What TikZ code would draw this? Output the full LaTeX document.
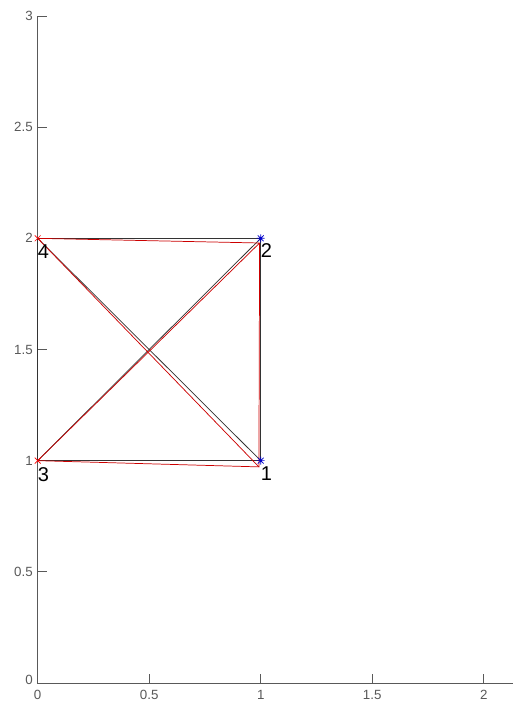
\documentclass[tikz,border=0pt]{standalone}
\usepackage{fontspec}
\setmainfont{Liberation Sans}
\usetikzlibrary{calc}
\begin{document}
\begin{tikzpicture}[x=167.25pt,y=166.73pt,
 axisline/.style={draw=black!65,line width=0.6pt},
 ticklab/.style={font=\fontsize{10pt}{11pt}\selectfont, text=black!65, inner sep=0pt},
 ptlab/.style={font=\fontsize{15pt}{15pt}\selectfont, anchor=base west, inner sep=0pt},
 blackedge/.style={draw=black!80, line width=0.55pt},
 rededge/.style={draw=red!80!black, line width=0.55pt},
 pics/starmark/.style={code={\draw[blue!80!black, line width=0.5pt] (-3pt,0)--(3pt,0) (0,-3pt)--(0,3pt) (-2.2pt,-2.2pt)--(2.2pt,2.2pt) (-2.2pt,2.2pt)--(2.2pt,-2.2pt);}},
 pics/xmark/.style={code={\draw[red, line width=0.5pt] (-2.2pt,-2.2pt)--(2.2pt,2.2pt) (-2.2pt,2.2pt)--(2.2pt,-2.2pt);}}
]
\useasboundingbox[fill=white] (-0.169,-0.108) rectangle (2.131,3.072);
% axes
\coordinate (O) at (0,0);
\coordinate (XE) at (2.131,0);
\coordinate (YT) at (0,3);
\draw[axisline] (XE) -- (O) -- (YT);
\foreach \x [count=\i] in {0.5,1,1.5,2} \draw[axisline] (\x,0) -- ++(0,0.04);
\foreach \y [count=\i] in {0.5,1,1.5,2,2.5,3} \draw[axisline] (0,\y) -- ++(0.04,0);
\foreach \x [count=\i] in {0,0.5,1,1.5,2} \node[ticklab] (xt\i) at (\x,-0.053) {\x};
\node[ticklab,anchor=east] (yt0) at (-0.021,0.012) {0};
\foreach \y [count=\i] in {0.5,1,1.5,2,2.5,3} \node[ticklab,anchor=east] (yt\i) at (-0.021,\y) {\y};
% points
\coordinate (B1) at (1,1);
\coordinate (B2) at (1,2);
\coordinate (B3) at (0,1);
\coordinate (B4) at (0,2);
\coordinate (R1) at (0.992,0.972);
\coordinate (R2) at (0.995,1.979);
\coordinate (R3) at (0,1);
\coordinate (R4) at (0,2);
% black graph
\draw[blackedge] (B1) -- (B2) -- (B4) -- (B3) -- (B1);
\draw[blackedge] (B1) -- (B4);
\draw[blackedge] (B2) -- (B3);
% red graph
\draw[rededge] (R4) -- (R2) -- (R1) -- (R3) -- (R2);
\draw[rededge] (R4) -- (R1);
% markers
\pic at (B1) {starmark};
\pic at (B2) {starmark};
\pic at (R3) {xmark};
\pic at (R4) {xmark};
% labels
\node[ptlab] (L1) at ($(B1)+(0,-0.088)$) {1};
\node[ptlab] (L2) at ($(B2)+(0,-0.088)$) {2};
\node[ptlab] (L3) at ($(B3)+(0,-0.094)$) {3};
\node[ptlab] (L4) at ($(B4)+(0,-0.092)$) {4};
\end{tikzpicture}
\end{document}
